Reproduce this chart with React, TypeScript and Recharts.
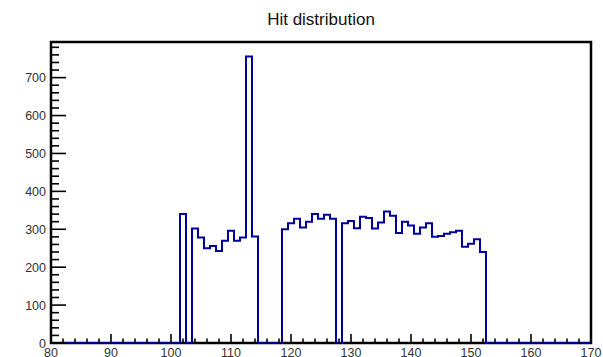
import React from "react";
import { ComposedChart, Line, XAxis, YAxis, ReferenceArea } from "recharts";

// histogram range and bin layout (1 unit bins centred on integers)
const xMin = 80;
const xMax = 170;
const yMax = 794;

// non-empty runs of bins: first bin centre + counts
const run1Start = 102;
const run1Counts = [340];
const run2Start = 104;
const run2Counts = [302, 278, 250, 256, 243, 270, 296, 270, 278, 756, 281];
const run3Start = 119;
const run3Counts = [300, 316, 328, 305, 320, 340, 328, 338, 328];
const run4Start = 129;
const run4Counts = [
  316, 322, 303, 333, 330, 302, 318, 347, 336, 290, 320, 310,
  288, 305, 316, 280, 282, 288, 292, 296, 254, 262, 274, 240,
];

const xMajorTicks = [80, 90, 100, 110, 120, 130, 140, 150, 160, 170];
const yMajorTicks = [0, 100, 200, 300, 400, 500, 600, 700];
const xMinorStep = 2;
const yMinorStep = 20;

const runs: [number, number[]][] = [
  [run1Start, run1Counts],
  [run2Start, run2Counts],
  [run3Start, run3Counts],
  [run4Start, run4Counts],
];

const countAt = (c: number) => {
  for (const [start, counts] of runs) {
    const i = c - start;
    if (i >= 0 && i < counts.length) return counts[i];
  }
  return 0;
};

// points at the low edge of each bin, drawn with stepAfter
const histData: { x: number; y: number }[] = [];
for (let c = xMin; c <= xMax; c++) {
  histData.push({ x: Math.max(xMin, c - 0.5), y: countAt(c) });
}
histData.push({ x: xMax, y: countAt(xMax) });

const xTicks: number[] = [];
for (let v = xMin; v <= xMax; v += xMinorStep) xTicks.push(v);
const yTicks: number[] = [];
for (let v = 0; v < yMax; v += yMinorStep) yTicks.push(v);

const font = "'Liberation Sans', Arial, sans-serif";

const YTick = (props: any) => {
  const { x, y, payload } = props;
  const major = yMajorTicks.includes(payload.value);
  return (
    <g>
      <line x1={x} x2={x + (major ? 15 : 8)} y1={y} y2={y} stroke="#000" strokeWidth={1.6} />
      {major && (
        <text x={x - 5} y={y} dy={4.5} textAnchor="end" fontSize={12.5} fontFamily={font} fill="#333">
          {payload.value}
        </text>
      )}
    </g>
  );
};

const XTick = (props: any) => {
  const { x, y, payload } = props;
  const major = xMajorTicks.includes(payload.value);
  return (
    <g>
      <line x1={x} x2={x} y1={y} y2={y - (major ? 9 : 4.5)} stroke="#000" strokeWidth={1.6} />
      {major && (
        <text x={x} y={y} dy={14} textAnchor="middle" fontSize={12.5} fontFamily={font} fill="#333">
          {payload.value}
        </text>
      )}
    </g>
  );
};

export default function App() {
  return (
    <div style={{ position: "absolute", left: 0, top: 0, width: 603, height: 357, background: "#fff" }}>
      <div
        style={{
          position: "absolute",
          left: 321,
          top: 10.6,
          transform: "translateX(-50%)",
          fontFamily: font,
          fontSize: 17,
          lineHeight: "17px",
          color: "#111",
          whiteSpace: "nowrap",
        }}
      >
        Hit distribution
      </div>
      <ComposedChart
        width={603}
        height={357}
        data={histData}
        margin={{ top: 42, right: 12, bottom: 0, left: 11 }}
      >
        <XAxis
          type="number"
          dataKey="x"
          domain={[xMin, xMax]}
          ticks={xTicks}
          interval={0}
          height={14}
          tickSize={0}
          tickMargin={0}
          tickLine={false}
          axisLine={false}
          tick={<XTick />}
          allowDataOverflow
        />
        <YAxis
          type="number"
          domain={[0, yMax]}
          ticks={yTicks}
          interval={0}
          width={40}
          tickSize={0}
          tickMargin={0}
          tickLine={false}
          axisLine={false}
          tick={<YTick />}
          allowDataOverflow
        />
        <ReferenceArea
          x1={xMin}
          x2={xMax}
          y1={0}
          y2={yMax}
          fill="none"
          stroke="#000"
          strokeWidth={2.5}
          fillOpacity={0}
        />
        <Line
          type="stepAfter"
          dataKey="y"
          stroke="#00009c"
          strokeWidth={2}
          dot={false}
          activeDot={false}
          isAnimationActive={false}
        />
      </ComposedChart>
    </div>
  );
}
